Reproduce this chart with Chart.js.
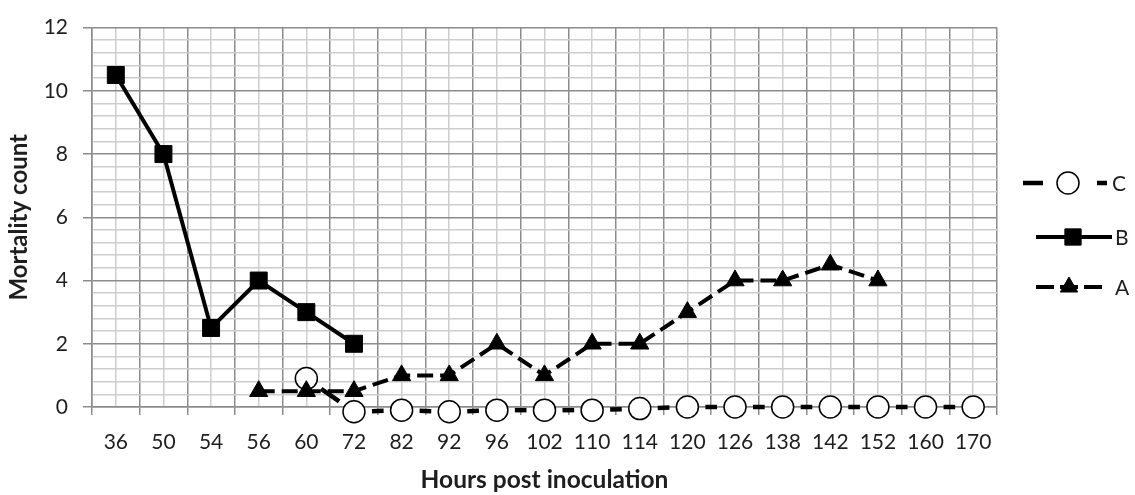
<!DOCTYPE html>
<html>
<head>
<meta charset="utf-8">
<script src="https://cdn.jsdelivr.net/npm/chart.js@4/dist/chart.umd.min.js"></script>
<style>
  html, body { margin: 0; padding: 0; background: #fff; }
  #wrap { width: 1135px; height: 495px; }
</style>
</head>
<body>
<div id="wrap"><canvas id="mortality-chart" width="1135" height="495"></canvas></div>
<script>
// ─── Data ───────────────────────────────────────────────────────────
const hours = ['36', '50', '54', '56', '60', '72', '82', '92', '96', '102',
  '110', '114', '120', '126', '138', '142', '152', '160', '170'];

const seriesA = [null, null, null, 0.5, 0.5, 0.5, 1, 1, 2, 1,
  2, 2, 3, 4, 4, 4.5, 4, null, null];
const seriesB = [10.5, 8, 2.5, 4, 3, 2, null, null, null, null,
  null, null, null, null, null, null, null, null, null];
const seriesC = [null, null, null, null, 0.9, -0.15, -0.1, -0.15, -0.1, -0.1,
  -0.1, -0.05, 0, 0, 0, 0, 0, 0, 0];

const yMin = 0;
const yMax = 12;
const yMajorStep = 2;
const yMinorStep = 0.4;

// ─── Styling ────────────────────────────────────────────────────────
const FONT = 'Lato, "Open Sans", sans-serif';
const TEXT = '#1e1e1e';
const MAJOR = '#8c8c8c';
const MINOR = '#cdcdcd';

const isMajor = (v) => Math.abs(v / yMajorStep - Math.round(v / yMajorStep)) < 1e-6;

function segLen(ctx) {
  const dx = ctx.p1.x - ctx.p0.x;
  const dy = ctx.p1.y - ctx.p0.y;
  return Math.sqrt(dx * dx + dy * dy);
}

// marker drawing for the side legend
function drawMarker(c, style, r, x, y) {
  c.beginPath();
  if (style === 'circle') {
    c.arc(x, y, r, 0, Math.PI * 2);
  } else if (style === 'rect') {
    const s = r * Math.SQRT1_2;
    c.rect(x - s, y - s, s * 2, s * 2);
  } else if (style === 'triangle') {
    c.moveTo(x, y - r);
    c.lineTo(x + Math.sin(Math.PI * 2 / 3) * r, y - Math.cos(Math.PI * 2 / 3) * r);
    c.lineTo(x + Math.sin(Math.PI * 4 / 3) * r, y - Math.cos(Math.PI * 4 / 3) * r);
    c.closePath();
  }
  c.fill();
  c.stroke();
}

// Excel-like legend on the right: C, B, A top to bottom
const sideLegend = {
  id: 'sideLegend',
  afterDraw(chart) {
    const c = chart.ctx;
    const rows = [
      { ds: 2, y: 183, x0: 1023, x1: 1107, mx: 1068, dash: [20, 54], tx: 1112 },
      { ds: 1, y: 237, x0: 1036, x1: 1112, mx: 1073, dash: [], tx: 1115 },
      { ds: 0, y: 287, x0: 1036, x1: 1108, mx: 1069, dash: [18, 6], tx: 1115 },
    ];
    c.save();
    for (const row of rows) {
      const d = chart.data.datasets[row.ds];
      c.strokeStyle = '#000';
      c.lineWidth = d.borderWidth;
      c.setLineDash(row.dash);
      c.beginPath();
      c.moveTo(row.x0, row.y);
      c.lineTo(row.x1, row.y);
      c.stroke();
      c.setLineDash([]);
      c.fillStyle = d.pointBackgroundColor;
      c.strokeStyle = d.pointBorderColor;
      c.lineWidth = d.pointBorderWidth;
      drawMarker(c, d.pointStyle, d.legendRadius, row.mx, row.y);
      c.fillStyle = TEXT;
      c.font = '21px ' + FONT;
      c.textBaseline = 'middle';
      c.textAlign = 'left';
      c.fillText(d.label, row.tx, row.y + 1);
    }
    c.restore();
  },
};

const ctx = document.getElementById('mortality-chart');

new Chart(ctx, {
  type: 'line',
  data: {
    labels: hours,
    datasets: [
      {
        label: 'A',
        data: seriesA,
        borderColor: '#000',
        borderWidth: 4,
        borderDash: [16, 7],
        pointStyle: 'triangle',
        pointRadius: 10.5,
        legendRadius: 10,
        pointBackgroundColor: '#000',
        pointBorderColor: '#000',
        pointBorderWidth: 1,
        tension: 0,
        clip: false,
      },
      {
        label: 'B',
        data: seriesB,
        borderColor: '#000',
        borderWidth: 4,
        pointStyle: 'rect',
        pointRadius: 12,
        legendRadius: 11.5,
        pointBackgroundColor: '#000',
        pointBorderColor: '#000',
        pointBorderWidth: 1,
        tension: 0,
        clip: false,
      },
      {
        label: 'C',
        data: seriesC,
        borderColor: '#000',
        borderWidth: 4.5,
        pointStyle: 'circle',
        pointRadius: 11,
        legendRadius: 11,
        pointBackgroundColor: '#fff',
        pointBorderColor: '#000',
        pointBorderWidth: 1.5,
        tension: 0,
        clip: false,
        // one short dash in the middle of each segment, between the circles
        segment: {
          borderDash: (s) => { const len = segLen(s); return [Math.max(len - 36, 4), 36]; },
          borderDashOffset: -18,
        },
      },
    ],
  },
  options: {
    responsive: false,
    animation: false,
    devicePixelRatio: 1,
    layout: { padding: { top: 17, right: 138, left: 0, bottom: 0 } },
    plugins: {
      legend: { display: false },
      tooltip: { enabled: false },
    },
    scales: {
      x: {
        type: 'category',
        offset: true,
        afterFit: (s) => { s.height = 88; },
        grid: {
          offset: true,
          color: MAJOR,
          lineWidth: 1.5,
          tickLength: 8,
          tickColor: MAJOR,
        },
        border: { color: MAJOR, width: 1.5 },
        ticks: {
          color: TEXT,
          font: { family: FONT, size: 21 },
          padding: 15,
          maxRotation: 0,
          autoSkip: false,
        },
        title: {
          display: true,
          text: 'Hours post inoculation',
          color: TEXT,
          font: { family: FONT, size: 24.5, weight: 'bold' },
          padding: { top: 0, bottom: 0 },
        },
      },
      x2: {
        type: 'category',
        position: 'bottom',
        offset: true,
        z: -1,
        afterFit: (s) => { s.height = 0; },
        grid: { offset: false, color: MINOR, lineWidth: 1.5, drawTicks: false },
        border: { display: false },
        ticks: { display: false },
      },
      y: {
        min: yMin,
        max: yMax,
        afterFit: (s) => { s.width = 92; },
        grid: {
          color: (c) => (isMajor(c.tick.value) ? MAJOR : MINOR),
          tickColor: (c) => (isMajor(c.tick.value) ? MAJOR : 'rgba(0,0,0,0)'),
          lineWidth: 1.5,
          tickLength: 9,
        },
        border: { color: MAJOR, width: 1.5 },
        ticks: {
          stepSize: yMinorStep,
          autoSkip: false,
          color: TEXT,
          font: { family: FONT, size: 21 },
          padding: 15,
          callback: (v) => (isMajor(v) ? Math.round(v) : ''),
        },
        title: {
          display: true,
          text: 'Mortality count',
          color: TEXT,
          font: { family: FONT, size: 24, weight: 'bold' },
          padding: { top: 5, bottom: 0 },
        },
      },
    },
  },
  plugins: [sideLegend],
});
</script>
</body>
</html>
